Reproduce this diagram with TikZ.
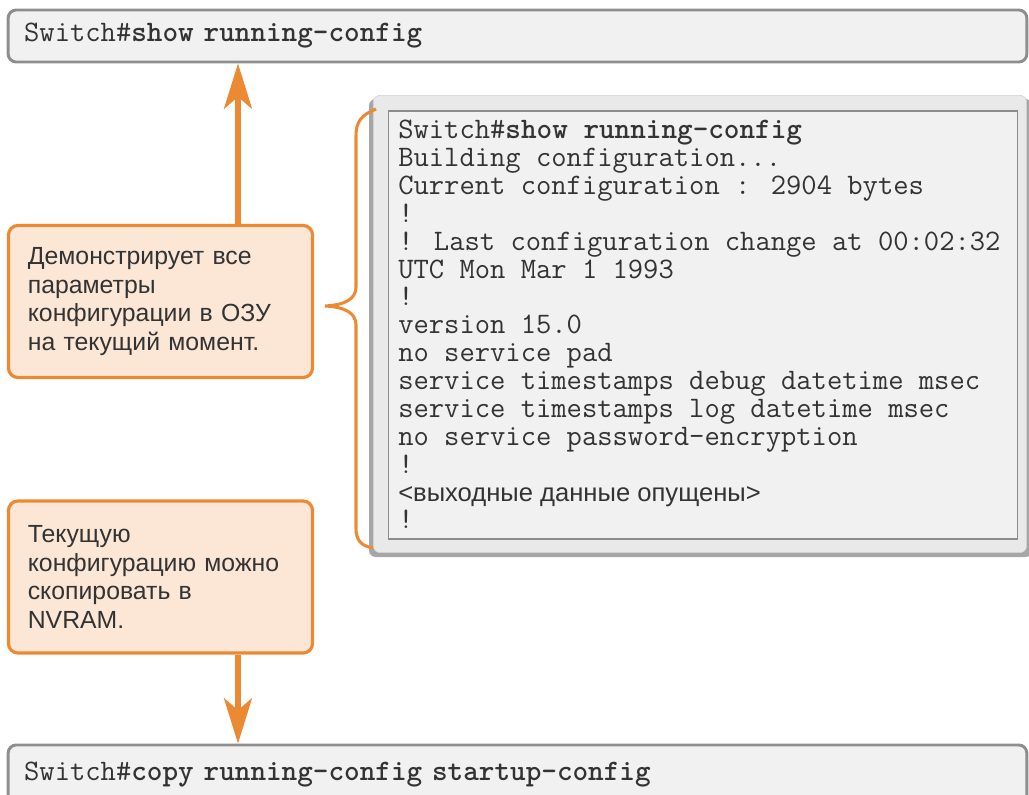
\documentclass[tikz,border=0pt]{standalone}
\usepackage{fontspec}
\setmainfont{Liberation Sans}
\usepackage{tikz}
\usetikzlibrary{arrows.meta}
\definecolor{ciscoorange}{HTML}{EC8A33}
\definecolor{notefill}{HTML}{FCE7D6}
\definecolor{bargray}{HTML}{8E8E8E}
\definecolor{barfill}{HTML}{F1F1F1}
\definecolor{panelgray}{HTML}{E9E9E9}
\definecolor{inkgray}{HTML}{333333}
\newcommand{\cmdfont}{\fontsize{22.3}{20.9}\selectfont\ttfamily}
\newcommand{\notefont}{\fontsize{18.6}{21.6}\selectfont}

\begin{document}
\begin{tikzpicture}[x=0.75pt,y=-0.75pt]
	\tikzstyle{cmdbar}=[draw=bargray,line width=2.2pt,fill=barfill,rounded corners=6pt,minimum width=764pt,minimum height=39pt,text width=740pt,align=left,inner sep=0pt,font=\cmdfont,text=inkgray]
	\tikzstyle{note}=[draw=ciscoorange,line width=2.4pt,fill=notefill,rounded corners=7pt,minimum width=228pt,minimum height=114pt,text width=199pt,align=left,inner sep=0pt,font=\notefont,text=inkgray]
	\tikzstyle{flow}=[draw=ciscoorange,line width=3.8pt,-{Stealth[length=34pt,width=21pt,inset=9pt]}]
	\clip (0,0) rectangle (1029,795);
	% command bars
	\node[cmdbar](showbar) at (517.5,36) {Switch\#\textbf{show running-config}};
	\node[cmdbar,minimum height=45pt](copybar) at (517.5,775) {Switch\#\textbf{copy running-config startup-config}};
	% output panel
	\fill[black!35,rounded corners=5pt] (369,99) rectangle (1032,557);
	\node[draw=black!18,fill=panelgray,rounded corners=5pt,minimum width=490pt,minimum height=343pt,inner sep=0pt](panel) at (700,324) {};
	\node[draw=black!45,line width=1.2pt,fill=barfill,minimum width=472pt,minimum height=321pt,inner sep=0pt](cfgbox) at (703,325) {};
	\node[anchor=north west,inner sep=0pt,align=left,font=\cmdfont,text=inkgray](cfgtext) at (398,120) {Switch\#\textbf{show running-config}\\
		Building configuration...\\
		Current configuration : 2904 bytes\\
		!\\
		! Last configuration change at 00:02:32\\
		UTC Mon Mar 1 1993\\
		!\\
		version 15.0\\
		no service pad\\
		service timestamps debug datetime msec\\
		service timestamps log datetime msec\\
		no service password-encryption\\
		!\\
		{\rmfamily\fontsize{19.2}{20.9}\selectfont <выходные данные опущены>}\\
		!};
	% notes
	\node[note](shownote) at (160.5,301.5) {Демонстрирует все\\параметры\\конфигурации в ОЗУ\\на текущий момент.};
	\node[note](copynote) at (160.5,577) {Текущую\\конфигурацию можно\\скопировать в\\NVRAM.};
	\draw[flow](shownote.north -| 238,0) -- (238,0 |- showbar.south);
	\draw[flow](copynote.south -| 238,0) -- (238,0 |- copybar.north);
	% brace
	\draw[ciscoorange,line width=2.3pt](panel.north west) ++(3,14) .. controls (361,115) and (356,122) .. (356,136) -- (356,287) .. controls (356,299) and (345,305) .. (325,306) .. controls (345,307) and (356,313) .. (356,325) -- (356,528) .. controls (356,540) and (361,546) .. (373,548);
\end{tikzpicture}
\end{document}
